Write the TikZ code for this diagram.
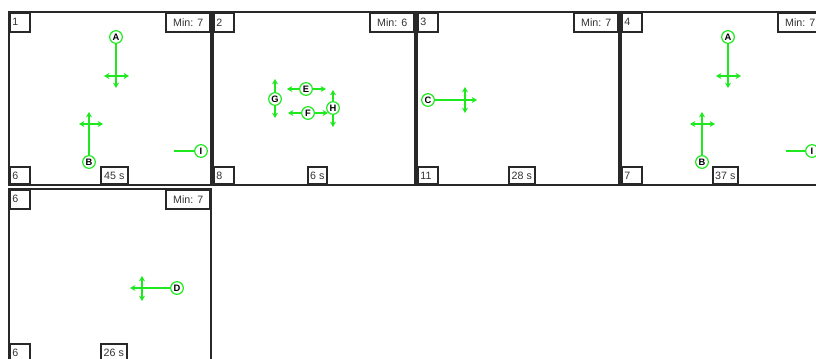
\documentclass[tikz,border=0pt]{standalone}
\usepackage{fontspec}
\setmainfont{Liberation Sans}
\usetikzlibrary{arrows.meta}
\definecolor{gr}{RGB}{30,232,30}
\definecolor{frame}{RGB}{40,40,40}
\tikzset{
  panel/.style={draw=frame, line width=0.9pt},
  tagbox/.style={draw=frame, line width=1.2pt, fill=white, inner sep=0pt, font=\fontsize{8}{9}\selectfont, text=black!80},
  numbox/.style={tagbox, align=left, text width=11pt, inner xsep=2pt, minimum height=14.25pt, anchor=north west},
  minbox/.style={tagbox, minimum width=33pt, minimum height=14.25pt, anchor=north east},
  lowbox/.style={tagbox, align=left, text width=11pt, inner xsep=2pt, minimum height=12.75pt, anchor=south west},
  timebox/.style={tagbox, minimum height=12.75pt, anchor=south west},
  wp/.style={circle, draw=gr, line width=0.9pt, fill=white, minimum size=9.5pt, inner sep=0pt, font=\fontsize{7}{7}\selectfont\bfseries},
  gl/.style={draw=gr, line width=1.1pt, >={Stealth[length=4pt,width=4.5pt]}},
}
% #1 name, #2 x, #3 y, #4 number, #5 min, #6 lower number, #7 time box offset, #8 time box width (px), #9 time
\newcommand{\mypanel}[9]{%
  \draw[panel] (#2,#3) rectangle ++(202,173);
  \node[numbox] (#1n) at (#2,#3) {#4};
  \node[minbox] (#1m) at (#2+202,#3) {Min: #5};
  \node[lowbox] (#1l) at (#2,#3+173) {#6};
  \node[timebox, minimum width=#8*0.75pt] (#1t) at (#2+#7,#3+173) {#9};
}
\begin{document}
\begin{tikzpicture}[x=0.75pt,y=-0.75pt]
\clip (0,0) rectangle (816,358);
\fill[white] (0,0) rectangle (816,358);

\mypanel{p1}{9}{12}{1}{7}{6}{91}{27}{45 s}
\mypanel{p2}{213}{12}{2}{6}{8}{94}{19}{6 s}
\mypanel{p3}{417}{12}{3}{7}{11}{91}{26}{28 s}
\mypanel{p4}{621}{12}{4}{7}{7}{91}{25}{37 s}
\mypanel{p5}{9}{189}{6}{7}{6}{91}{26}{26 s}

% ---- panel 1
\node[wp] (A1) at (116,37) {A};
\coordinate (A1d) at (116,88);
\coordinate (A1l) at (104,76);
\coordinate (A1r) at (129,76);
\draw[gl,->] (A1) -- (A1d);
\draw[gl,<->] (A1l) -- (A1r);
\node[wp] (B1) at (89,162) {B};
\coordinate (B1u) at (89,112);
\coordinate (B1l) at (79,124);
\coordinate (B1r) at (103,124);
\draw[gl,->] (B1) -- (B1u);
\draw[gl,<->] (B1l) -- (B1r);
\node[wp] (I1) at (201,151) {I};
\coordinate (I1e) at (174,151);
\draw[gl] (I1) -- (I1e);

% ---- panel 2
\node[wp] (G2) at (275,99) {G};
\coordinate (G2u) at (275,79);
\coordinate (G2d) at (275,118);
\draw[gl,->] (G2) -- (G2u);
\draw[gl,->] (G2) -- (G2d);
\node[wp] (E2) at (306,89) {E};
\coordinate (E2l) at (287,89);
\coordinate (E2r) at (326,89);
\draw[gl,->] (E2) -- (E2l);
\draw[gl,->] (E2) -- (E2r);
\node[wp] (H2) at (333,108) {H};
\coordinate (H2u) at (333,90);
\coordinate (H2d) at (333,127);
\draw[gl,->] (H2) -- (H2u);
\draw[gl,->] (H2) -- (H2d);
\node[wp] (F2) at (308,113) {F};
\coordinate (F2l) at (288,113);
\coordinate (F2r) at (328,113);
\draw[gl,->] (F2) -- (F2l);
\draw[gl,->] (F2) -- (F2r);

% ---- panel 3
\node[wp] (C3) at (428,100) {C};
\coordinate (C3e) at (477,100);
\coordinate (C3u) at (465,87);
\coordinate (C3d) at (465,113);
\draw[gl,->] (C3) -- (C3e);
\draw[gl,<->] (C3u) -- (C3d);

% ---- panel 4
\node[wp] (A4) at (728,37) {A};
\coordinate (A4d) at (728,88);
\coordinate (A4l) at (716,76);
\coordinate (A4r) at (741,76);
\draw[gl,->] (A4) -- (A4d);
\draw[gl,<->] (A4l) -- (A4r);
\node[wp] (B4) at (702,162) {B};
\coordinate (B4u) at (702,112);
\coordinate (B4l) at (690,124);
\coordinate (B4r) at (715,124);
\draw[gl,->] (B4) -- (B4u);
\draw[gl,<->] (B4l) -- (B4r);
\node[wp] (I4) at (812,151) {I};
\coordinate (I4e) at (786,151);
\draw[gl] (I4) -- (I4e);

% ---- panel 5
\node[wp] (D5) at (177,288) {D};
\coordinate (D5e) at (130,288);
\coordinate (D5u) at (142,276);
\coordinate (D5d) at (142,301);
\draw[gl,->] (D5) -- (D5e);
\draw[gl,<->] (D5u) -- (D5d);
\end{tikzpicture}
\end{document}
